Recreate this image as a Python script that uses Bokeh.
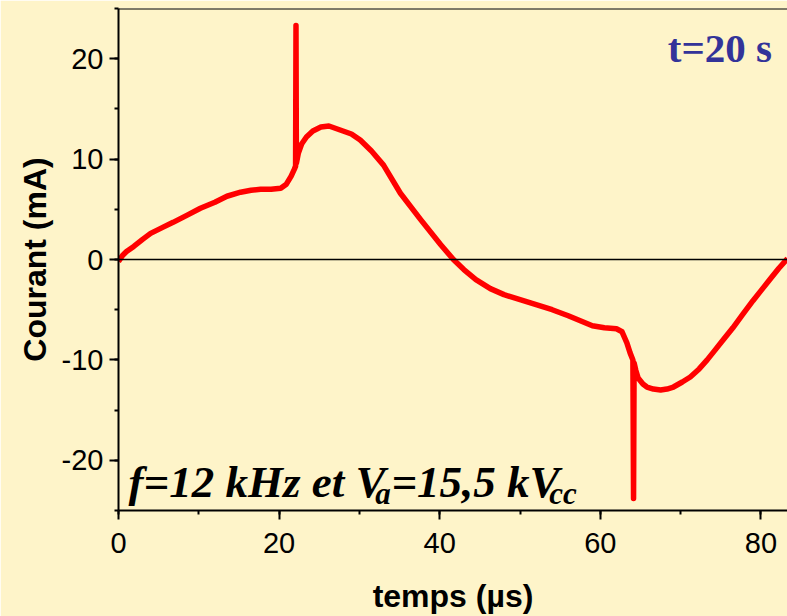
from bokeh.plotting import figure
from bokeh.models import Label, Span, SingleIntervalTicker, CustomJSTickFormatter
from bokeh.embed import file_html
from bokeh.resources import INLINE

# ---- data ----
time_us = [0.0, 0.5, 1.0, 1.9, 3.0, 4.0, 5.5, 6.8, 8.5, 10.2, 12.0, 13.5, 15.2, 16.5,
           17.7, 19.0, 20.2, 20.9, 21.5, 21.9, 22.05, 22.1, 22.15, 22.4, 22.8, 23.4,
           24.2, 25.2, 26.2, 27.6, 29.0, 30.1, 31.5, 33.0, 35.1, 37.6, 40.1, 41.7,
           43.0, 44.5, 46.3, 48.0, 50.0, 52.0, 54.0, 56.0, 57.5, 59.0, 60.5, 62.0,
           62.7, 63.3, 63.7, 64.05, 64.13, 64.2, 64.4, 64.7, 65.3, 65.8, 66.6, 67.5,
           68.3, 69.1, 70.2, 71.2, 72.3, 73.3, 74.1, 75.3, 76.5, 77.7, 79.0, 80.0,
           81.1, 82.2, 83.3]
current_ma = [-0.2, 0.4, 0.8, 1.3, 2.0, 2.6, 3.2, 3.7, 4.4, 5.1, 5.7, 6.3, 6.7, 6.9,
              7.0, 7.0, 7.1, 7.5, 8.3, 9.0, 9.3, 23.3, 9.6, 10.6, 11.5, 12.2,
              12.8, 13.2, 13.3, 12.9, 12.5, 11.9, 10.8, 9.4, 6.6, 4.0, 1.5, 0.0,
              -1.0, -2.0, -2.9, -3.5, -4.0, -4.5, -5.0, -5.6, -6.1, -6.6, -6.8, -6.9,
              -7.2, -8.3, -9.3, -10.0, -23.8, -10.3, -11.0, -11.8, -12.4, -12.7, -12.9, -13.0,
              -12.9, -12.7, -12.2, -11.7, -10.9, -10.0, -9.2, -8.0, -6.8, -5.5, -4.1, -3.1,
              -2.0, -0.9, 0.1]

x_label = "temps (µs)"
y_label = "Courant (mA)"
time_label = "t=20 s"

BG = "#FEF4C9"

p = figure(width=787, height=616, x_range=(0, 83.3), y_range=(-25, 25),
           output_backend="svg", toolbar_location=None,
           min_border_left=118, min_border_right=0, min_border_top=8, min_border_bottom=106,
           background_fill_color=BG, border_fill_color=BG)
p.outline_line_color = None
p.xgrid.visible = False
p.ygrid.visible = False

p.xaxis.ticker = SingleIntervalTicker(interval=20, num_minor_ticks=2)
p.yaxis.ticker = SingleIntervalTicker(interval=10, num_minor_ticks=2)
fmt_code = "return String(Math.round(tick));"
p.xaxis.formatter = CustomJSTickFormatter(code=fmt_code)
p.yaxis.formatter = CustomJSTickFormatter(code=fmt_code)
p.xaxis.axis_label = x_label
p.yaxis.axis_label = y_label

for ax in (p.xaxis, p.yaxis):
    ax.axis_line_width = 2
    ax.axis_line_color = "black"
    ax.major_tick_line_width = 2
    ax.minor_tick_line_width = 2
    ax.major_tick_line_color = "black"
    ax.minor_tick_line_color = "black"
    ax.major_tick_in = 0
    ax.major_tick_out = 9
    ax.minor_tick_in = 0
    ax.minor_tick_out = 4
    ax.major_label_text_font = "Liberation Sans"
    ax.major_label_text_font_size = "29px"
    ax.major_label_text_color = "black"
    ax.axis_label_text_font = "Liberation Sans"
    ax.axis_label_text_font_style = "bold"
    ax.axis_label_text_font_size = "32px"
    ax.axis_label_text_color = "black"

p.xaxis.major_label_standoff = 13
p.xaxis.axis_label_standoff = 22
p.yaxis.major_label_standoff = 6
p.yaxis.axis_label_standoff = 6

# frame top line and zero line
p.add_layout(Span(location=25, dimension="width", line_color="black", line_width=2))
p.add_layout(Span(location=0, dimension="width", line_color="black", line_width=1.5))

p.line(time_us, current_ma, line_color="#FF0000", line_width=5.5, line_join="round")

p.add_layout(Label(x=68.4, y=21.1, text=time_label, text_font="Liberation Serif",
                   text_font_style="bold", text_font_size="41px", text_color="#333399",
                   text_baseline="alphabetic"))

main_kw = dict(text_font="Liberation Serif", text_font_style="bold italic",
               text_font_size="45px", text_color="black", text_baseline="alphabetic")
sub_kw = dict(text_font="Liberation Serif", text_font_style="bold italic",
              text_font_size="31px", text_color="black", text_baseline="alphabetic")
p.add_layout(Label(x=1.25, y=-22.2, text="f=12 kHz et V", **main_kw))
p.add_layout(Label(x=31.98, y=-23.3, text="a", **sub_kw))
p.add_layout(Label(x=33.98, y=-22.2, text="=15,5 kV", **main_kw))
p.add_layout(Label(x=53.64, y=-23.3, text="cc", **sub_kw))

open("out.html", "w").write(file_html(p, INLINE))
